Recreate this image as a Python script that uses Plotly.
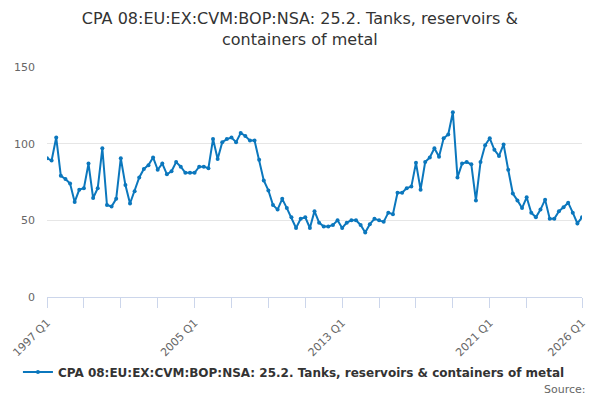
import plotly.graph_objects as go

# quarterly values, 1997 Q1 .. 2026 Q1
years = list(range(1997, 2027))
values = [
    90.5, 89, 104, 79,
    77, 74, 62, 70,
    71, 87, 64.5, 71,
    97, 60, 59, 64,
    90.5, 73, 61, 69,
    78, 83.5, 86, 91,
    83, 87, 80, 82,
    88, 85, 81, 81,
    81, 85, 85, 84,
    103, 90, 101, 103,
    104, 101, 107, 105,
    102, 102, 89.5, 76,
    69.5, 60, 57, 64,
    58, 52, 45, 51,
    52, 45, 56, 48.5,
    46, 46, 47, 50,
    45, 48.5, 50, 50,
    47, 42, 47.5, 51,
    50, 49, 55, 54,
    68, 68, 71, 72,
    87.5, 70, 88, 91,
    97, 91.5, 103.5, 106,
    120.5, 78, 87, 88,
    86.5, 63, 88, 99,
    103.5, 96, 92, 99.5,
    83, 67.5, 63, 58,
    65, 55, 52, 57,
    63.5, 51, 51, 56,
    58.5, 61.5, 55, 48,
    52,
]
quarters = [f"{y} Q{q}" for y in years for q in range(1, 5)][:len(values)]

tick_vals = [f"{y} Q1" for y in range(1997, 2024, 2)] + ["2026 Q1"]
labelled = ["1997 Q1", "2005 Q1", "2013 Q1", "2021 Q1", "2026 Q1"]
tick_text = [t if t in labelled else "" for t in tick_vals]

series_name = "CPA 08:EU:EX:CVM:BOP:NSA: 25.2. Tanks, reservoirs & containers of metal"
line_color = "#0b77bd"

fig = go.Figure(go.Scatter(
    x=quarters, y=values, mode="lines+markers", name=series_name,
    line=dict(color=line_color, width=2),
    marker=dict(color=line_color, size=4),
))

# page body adds an 8px offset, so the figure is 592x392
fig.update_layout(
    width=592, height=392,
    paper_bgcolor="white", plot_bgcolor="white",
    font=dict(family="DejaVu Sans", color="#666666", size=11),
    margin=dict(l=39, r=18, t=59, b=103, autoexpand=False),
    title=dict(
        text="CPA 08:EU:EX:CVM:BOP:NSA: 25.2. Tanks, reservoirs &<br>containers of metal",
        x=0.493, xanchor="center", y=0.959, yanchor="top", yref="container",
        font=dict(size=16, color="#333333"),
    ),
    showlegend=True,
    legend=dict(
        orientation="h", xref="container", x=0.483, xanchor="center",
        yref="container", y=0.0714, yanchor="middle",
        font=dict(size=12, color="#333333", weight="bold"),
    ),
    annotations=[dict(
        text="Source:", xref="paper", yref="paper", x=1.011, y=-0.404,
        xanchor="right", yanchor="middle", showarrow=False,
        font=dict(size=11, color="#666666"),
    )],
)

fig.update_xaxes(
    type="category", range=[0, len(values) - 1], automargin=False,
    tickmode="array", tickvals=tick_vals, ticktext=tick_text,
    tickangle=-45, ticks="outside", ticklen=10, tickcolor="#ccd6eb",
    showline=True, linecolor="#ccd6eb", linewidth=1,
    showgrid=False, zeroline=False, ticklabelstandoff=4,
)
fig.update_yaxes(
    range=[0, 150], tickvals=[0, 50, 100, 150], automargin=False,
    showgrid=True, gridcolor="#e6e6e6", zeroline=False,
    ticks="", showline=False, ticklabelstandoff=11,
)

fig.write_html("out.html")
